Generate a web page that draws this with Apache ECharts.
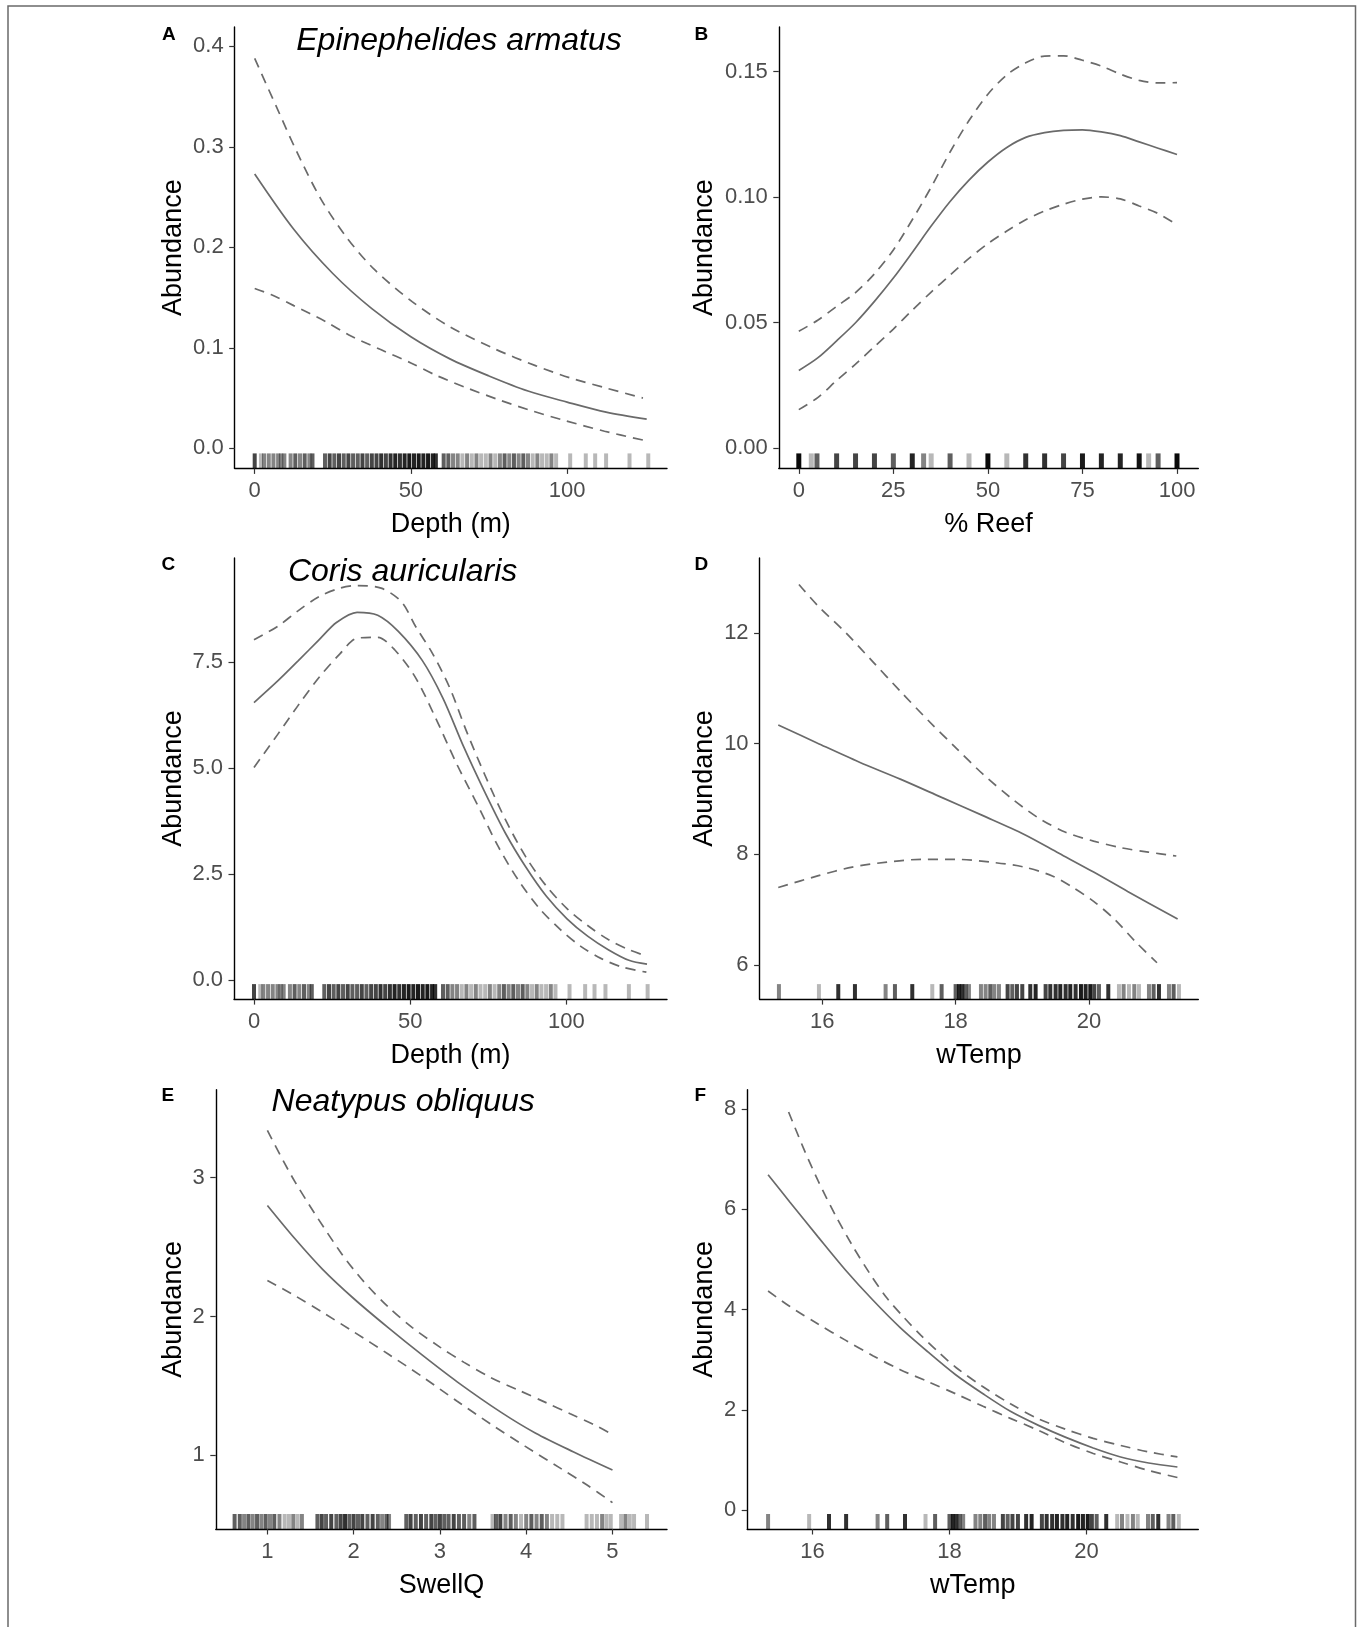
<!DOCTYPE html>
<html>
<head>
<meta charset="utf-8">
<script src="https://cdn.jsdelivr.net/npm/echarts@6/dist/echarts.min.js"></script>
<style>
  html, body { margin: 0; padding: 0; background: #fff; }
  #chart { width: 1363px; height: 1627px; }
</style>
</head>
<body>
<div id="chart"></div>
<script>
// ---- values ----

// tick values
const depthTicks = [0, 50, 100];
const reefTicks = [0, 25, 50, 75, 100];
const tempTicks = [16, 18, 20];
const swellTicks = [1, 2, 3, 4, 5];
const aYTicks = [0, 0.1, 0.2, 0.3, 0.4];
const bYTicks = [0, 0.05, 0.1, 0.15];
const cYTicks = [0, 2.5, 5, 7.5];
const dYTicks = [6, 8, 10, 12];
const eYTicks = [1, 2, 3];
const fYTicks = [0, 2, 4, 6, 8];

// A: Epinephelides armatus ~ Depth
const aFitX = [0, 12.5, 25, 37.5, 50, 62.5, 75, 87.5, 100, 112.5, 125.5];
const aFit = [0.273, 0.218, 0.174, 0.139, 0.111, 0.089, 0.072, 0.057, 0.046, 0.036, 0.029];
const aUpperX = [0, 6.8, 13.5, 21.2, 29.4, 38.3, 50.4, 62.5, 76.8, 90.1, 101.1, 112.5, 124.3];
const aUpper = [0.388, 0.341, 0.295, 0.248, 0.210, 0.178, 0.146, 0.121, 0.099, 0.082, 0.070, 0.060, 0.050];
const aLowerX = [0, 5.2, 12.5, 22.8, 30, 40.5, 50, 58.1, 68, 77.9, 88, 98.9, 112, 124.3];
const aLower = [0.159, 0.153, 0.142, 0.126, 0.113, 0.098, 0.085, 0.0726, 0.060, 0.0486, 0.038, 0.028, 0.017, 0.0082];

// B: Epinephelides armatus ~ % Reef
const bX = [0, 5, 10, 15, 20, 25, 30, 35, 40, 45, 50, 55, 60, 65, 70, 75, 80, 85, 90, 95, 100];
const bFit = [0.031, 0.036, 0.0428, 0.050, 0.0585, 0.0678, 0.078, 0.0885, 0.0983, 0.1068, 0.114, 0.1198, 0.1238, 0.1257, 0.1266, 0.1268, 0.126, 0.1245, 0.122, 0.1195, 0.117];
const bUpper = [0.0466, 0.051, 0.0565, 0.062, 0.0695, 0.079, 0.091, 0.104, 0.118, 0.1305, 0.141, 0.1487, 0.1535, 0.1562, 0.1563, 0.1545, 0.1522, 0.149, 0.1465, 0.1455, 0.1456];
const bLower = [0.0154, 0.0202, 0.027, 0.0335, 0.0405, 0.0475, 0.055, 0.0622, 0.069, 0.0756, 0.0815, 0.0865, 0.091, 0.0945, 0.0972, 0.0992, 0.1001, 0.0993, 0.0965, 0.0935, 0.089];

// C: Coris auricularis ~ Depth
const cFitX = [0, 7.6, 14.2, 20.8, 26.4, 33, 39.6, 46.2, 53.9, 60.5, 67.1, 73.8, 80.4, 87, 93.6, 100.2, 106.8, 113.4, 120, 125.8];
const cFit = [6.54, 7.05, 7.53, 8.02, 8.43, 8.67, 8.60, 8.22, 7.53, 6.64, 5.50, 4.44, 3.47, 2.66, 1.97, 1.44, 1.03, 0.71, 0.46, 0.37];
const cUpperX = [0, 7.6, 14.2, 20.8, 27.5, 33, 40.7, 47.3, 51.7, 57.2, 62.7, 68.2, 73.8, 80.4, 87, 93.6, 100.2, 106.8, 113.4, 120, 125.6];
const cUpper = [8.02, 8.34, 8.71, 9.04, 9.24, 9.30, 9.24, 8.91, 8.34, 7.69, 6.88, 5.83, 4.85, 3.79, 2.90, 2.21, 1.68, 1.28, 0.95, 0.71, 0.56];
const cLowerX = [0, 7.6, 14.2, 20.8, 27.5, 33, 39.6, 45.1, 51.7, 58.3, 64.9, 71.6, 78.2, 84.8, 91.4, 98, 104.6, 111.2, 117.9, 125.6];
const cLower = [5.01, 5.79, 6.48, 7.13, 7.69, 8.06, 8.08, 7.78, 7.13, 6.15, 5.09, 4.12, 3.14, 2.33, 1.68, 1.19, 0.79, 0.50, 0.30, 0.18];

// D: Coris auricularis ~ wTemp
const dFitX = [15.34, 15.93, 16.55, 17.17, 17.79, 18.41, 19.03, 19.55, 20.07, 20.58, 21.33];
const dFit = [10.34, 10.01, 9.67, 9.36, 9.03, 8.70, 8.36, 8.02, 7.68, 7.33, 6.83];
const dUpperX = [15.65, 15.93, 16.35, 16.76, 17.17, 17.59, 18.0, 18.41, 18.83, 19.24, 19.65, 20.07, 20.48, 20.89, 21.31];
const dUpper = [12.88, 12.50, 12.01, 11.48, 10.95, 10.42, 9.93, 9.45, 9.02, 8.66, 8.40, 8.24, 8.12, 8.04, 7.97];
const dLowerX = [15.34, 15.93, 16.45, 16.97, 17.49, 18.0, 18.52, 19.03, 19.45, 19.76, 20.07, 20.38, 20.69, 21.02];
const dLower = [7.40, 7.61, 7.77, 7.86, 7.91, 7.91, 7.86, 7.77, 7.61, 7.40, 7.15, 6.83, 6.43, 6.04];

// E: Neatypus obliquus ~ SwellQ
const eFitX = [1, 1.32, 1.64, 2.0, 2.40, 2.80, 3.20, 3.71, 4.11, 4.55, 5.0];
const eFit = [2.80, 2.56, 2.34, 2.13, 1.92, 1.72, 1.53, 1.31, 1.16, 1.025, 0.895];
const eUpperX = [1, 1.32, 1.84, 2.12, 2.40, 2.68, 3.0, 3.28, 3.59, 3.91, 4.23, 4.51, 4.79, 5.0];
const eUpper = [3.34, 2.97, 2.47, 2.25, 2.07, 1.92, 1.78, 1.67, 1.56, 1.47, 1.38, 1.30, 1.22, 1.15];
const eLowerX = [1, 1.32, 1.64, 2.0, 2.40, 2.80, 3.20, 3.59, 3.99, 4.39, 4.71, 5.0];
const eLower = [2.26, 2.15, 2.03, 1.89, 1.73, 1.565, 1.39, 1.225, 1.065, 0.91, 0.785, 0.66];

// F: Neatypus obliquus ~ wTemp
const fFitX = [15.35, 15.67, 16.08, 16.48, 16.88, 17.28, 17.69, 18.09, 18.49, 18.89, 19.30, 19.70, 20.10, 20.50, 20.91, 21.33];
const fFit = [6.69, 6.14, 5.45, 4.79, 4.19, 3.64, 3.15, 2.70, 2.32, 1.97, 1.69, 1.45, 1.24, 1.06, 0.94, 0.86];
const fUpperX = [15.65, 15.87, 16.08, 16.33, 16.58, 16.83, 17.08, 17.33, 17.58, 17.84, 18.09, 18.49, 18.89, 19.30, 19.70, 20.10, 20.50, 20.91, 21.33];
const fUpper = [7.94, 7.21, 6.57, 5.89, 5.28, 4.73, 4.24, 3.85, 3.49, 3.15, 2.85, 2.46, 2.12, 1.82, 1.61, 1.43, 1.29, 1.16, 1.06];
const fLowerX = [15.35, 15.67, 16.08, 16.48, 16.88, 17.28, 17.69, 18.09, 18.49, 18.89, 19.30, 19.70, 20.10, 20.50, 20.91, 21.33];
const fLower = [4.37, 4.06, 3.71, 3.39, 3.08, 2.80, 2.56, 2.32, 2.07, 1.83, 1.59, 1.34, 1.13, 0.96, 0.79, 0.65];

// rug marks: observed predictor values and how many observations overlap there
const depthRug = [0, 2, 3, 4.5, 6, 7.5, 8.5, 9.5, 11.5, 13, 14.5, 16, 17.5, 18.5,
  22.5, 24, 25.5, 27, 28.5, 30, 31.5, 33, 34.5, 36, 37.5, 39, 40.5, 42, 43.5, 45, 46.5, 48, 49.5, 51, 52.5, 54, 55.5, 57, 58,
  60.5, 62, 63.5, 65, 66.5, 68, 69.5, 71, 72.5, 74, 75.5, 77, 78.5, 80, 81.5, 83, 84.5, 86, 87.5, 89, 90.5, 92, 93.5, 95, 96.5,
  101, 106, 109, 112.5, 120, 126];
const depthRugN = [4, 1, 2, 2, 2, 2, 2, 2, 2, 3, 2, 3, 2, 3,
  3, 4, 3, 4, 3, 4, 3, 3, 4, 3, 4, 4, 5, 4, 5, 6, 5, 6, 7, 6, 7, 6, 7, 6, 5,
  3, 3, 2, 2, 1, 2, 1, 2, 1, 1, 2, 1, 2, 3, 2, 3, 2, 3, 2, 1, 2, 1, 1, 2, 1,
  1, 1, 1, 1, 1, 1];
const reefRug = [0, 3.3, 4.8, 10, 15, 20, 25, 30, 33, 35, 40, 45, 50, 55, 60, 65, 70, 75, 80, 85, 90, 92.5, 95, 100];
const reefRugN = [10, 1, 3, 4, 4, 4, 3, 6, 2, 1, 3, 1, 10, 1, 5, 5, 4, 7, 6, 6, 8, 1, 3, 10];
const tempRug = [15.35, 15.95, 16.24, 16.49, 16.95, 17.09, 17.35, 17.65, 17.79,
  18.0, 18.05, 18.1, 18.15, 18.2, 18.38, 18.45, 18.52, 18.58, 18.65, 18.78, 18.85, 18.92, 19.0,
  19.12, 19.2, 19.35, 19.42, 19.5, 19.57, 19.65, 19.72, 19.8, 19.88, 19.95, 20.02,
  20.08, 20.15, 20.29, 20.45, 20.52, 20.6, 20.68, 20.75, 20.9, 20.97, 21.05, 21.2, 21.27, 21.35];
const tempRugN = [2, 1, 5, 5, 2, 3, 5, 1, 3,
  3, 6, 5, 3, 2, 2, 2, 3, 2, 2, 4, 3, 4, 4,
  5, 6, 4, 5, 5, 6, 5, 6, 5, 7, 6, 7,
  4, 3, 5, 1, 2, 1, 2, 1, 2, 3, 5, 2, 3, 1];
const swellRug = [0.62, 0.68, 0.73, 0.78, 0.83, 0.88, 0.93, 0.98, 1.03, 1.08, 1.14, 1.2, 1.25, 1.3, 1.35, 1.4,
  1.58, 1.63, 1.68, 1.74, 1.8, 1.85, 1.9, 1.95, 2.0, 2.05, 2.1, 2.16, 2.22, 2.28, 2.33, 2.38, 2.41,
  2.61, 2.66, 2.72, 2.78, 2.84, 2.9, 2.95, 3.0, 3.05, 3.1, 3.16, 3.22, 3.28, 3.34, 3.4,
  3.61, 3.65, 3.7, 3.76, 3.82, 3.88, 3.94, 4.0, 4.06, 4.12, 4.18, 4.24, 4.3, 4.36, 4.42,
  4.7, 4.76, 4.82, 4.88, 4.93, 4.98, 5.1, 5.15, 5.2, 5.25, 5.4];
const swellRugN = [3, 3, 2, 3, 2, 3, 2, 3, 2, 3, 2, 1, 1, 2, 1, 2,
  3, 4, 3, 4, 3, 4, 5, 3, 4, 3, 4, 3, 4, 3, 2, 3, 2,
  3, 4, 3, 4, 3, 4, 3, 4, 3, 3, 4, 3, 3, 2, 3,
  1, 3, 4, 2, 3, 2, 1, 2, 3, 2, 3, 2, 1, 1, 1,
  1, 1, 1, 2, 1, 1, 1, 2, 1, 1, 1];

// ---- layout ----
const FONT = '"Liberation Sans", Arial, Helvetica, sans-serif';
const LINE = '#6a6a6a';
const RUG_ALPHA = 0.28;

const panels = [
  { letter: 'A', lx: 162, ly: 35, title: 'Epinephelides armatus', tx: 459, ty: 41,
    grid: { left: 234.7, top: 26.9, width: 432.3, height: 441.5 },
    x: { min: -6.4, max: 132, ticks: depthTicks, dec: 0, name: 'Depth (m)' },
    y: { min: -0.02, max: 0.4194, ticks: aYTicks, dec: 1, gap: 47.7 },
    fit: [aFitX, aFit], upper: [aUpperX, aUpper], lower: [aLowerX, aLower], rug: [depthRug, depthRugN], rugW: 4 },
  { letter: 'B', lx: 694.5, ly: 35,
    grid: { left: 778.8, top: 26.9, width: 419.5, height: 441.5 },
    x: { min: -5.29, max: 105.63, ticks: reefTicks, dec: 0, name: '% Reef' },
    y: { min: -0.008, max: 0.1678, ticks: bYTicks, dec: 2, gap: 60.4 },
    fit: [bX, bFit], upper: [bX, bUpper], lower: [bX, bLower], rug: [reefRug, reefRugN], rugW: 5 },
  { letter: 'C', lx: 161.4, ly: 565, title: 'Coris auricularis', tx: 402.6, ty: 572,
    grid: { left: 234, top: 557.9, width: 433, height: 441.2 },
    x: { min: -6.4, max: 132.2, ticks: depthTicks, dec: 0, name: 'Depth (m)' },
    y: { min: -0.455, max: 9.953, ticks: cYTicks, dec: 1, gap: 47 },
    fit: [cFitX, cFit], upper: [cUpperX, cUpper], lower: [cLowerX, cLower], rug: [depthRug, depthRugN], rugW: 4 },
  { letter: 'D', lx: 694.5, ly: 565,
    grid: { left: 759.6, top: 557.9, width: 438.7, height: 441.2 },
    x: { min: 15.06, max: 21.64, ticks: tempTicks, dec: 0, name: 'wTemp' },
    y: { min: 5.383, max: 13.36, ticks: dYTicks, dec: 0, gap: 41.2 },
    fit: [dFitX, dFit], upper: [dUpperX, dUpper], lower: [dLowerX, dLower], rug: [tempRug, tempRugN], rugW: 4 },
  { letter: 'E', lx: 161.4, ly: 1096, title: 'Neatypus obliquus', tx: 403.2, ty: 1102,
    grid: { left: 215.8, top: 1089.8, width: 451.2, height: 439.2 },
    x: { min: 0.402, max: 5.632, ticks: swellTicks, dec: 0, name: 'SwellQ' },
    y: { min: 0.47, max: 3.633, ticks: eYTicks, dec: 0, gap: 28.8 },
    fit: [eFitX, eFit], upper: [eUpperX, eUpper], lower: [eLowerX, eLower], rug: [swellRug, swellRugN], rugW: 4 },
  { letter: 'F', lx: 694.5, ly: 1096,
    grid: { left: 747.2, top: 1089.8, width: 451.1, height: 439.2 },
    x: { min: 15.045, max: 21.635, ticks: tempTicks, dec: 0, name: 'wTemp' },
    y: { min: -0.377, max: 8.383, ticks: fYTicks, dec: 0, gap: 28.8 },
    fit: [fFitX, fFit], upper: [fUpperX, fUpper], lower: [fLowerX, fLower], rug: [tempRug, tempRugN], rugW: 4 }
];

function zip(xs, ys) {
  return xs.map(function (x, i) { return [x, ys[i]]; });
}

function axisBase(ax) {
  return {
    type: 'value',
    min: ax.min,
    max: ax.max,
    splitLine: { show: false },
    axisLine: { show: true, onZero: false, lineStyle: { color: '#000', width: 1.4 } },
    axisTick: { show: true, customValues: ax.ticks, length: 5.5, lineStyle: { color: '#333', width: 1.2 } },
    axisLabel: {
      customValues: ax.ticks,
      formatter: function (v) { return Number(v).toFixed(ax.dec); },
      fontSize: 22, color: '#4d4d4d', fontFamily: FONT, margin: 12
    },
    nameLocation: 'middle',
    nameTextStyle: { fontSize: 27, color: '#000', fontFamily: FONT }
  };
}

const grids = [], xAxes = [], yAxes = [], series = [], graphics = [];

// outer frame of the figure
graphics.push({
  type: 'rect', silent: true,
  shape: { x: 8, y: 6, width: 1347.5, height: 1640 },
  style: { fill: 'none', stroke: '#6a6a6a', lineWidth: 1.5 }
});

panels.forEach(function (p, i) {
  grids.push(p.grid);
  const xa = axisBase(p.x);
  xa.gridIndex = i; xa.name = p.x.name; xa.nameGap = 43;
  xAxes.push(xa);
  const ya = axisBase(p.y);
  ya.gridIndex = i; ya.name = 'Abundance'; ya.nameGap = p.y.gap;
  ya.axisLabel.margin = 11;
  yAxes.push(ya);

  // rug along the bottom of the panel
  series.push({
    type: 'scatter', xAxisIndex: i, yAxisIndex: i, silent: true, clip: false,
    symbol: 'rect', symbolSize: [p.rugW, 15], symbolOffset: [0, '-50%'],
    data: p.rug[0].map(function (v, k) {
      return { value: [v, p.y.min], itemStyle: { color: '#000', opacity: 1 - Math.pow(1 - RUG_ALPHA, p.rug[1][k]) } };
    }),
    z: 1
  });

  [['fit', 'solid'], ['upper', [10, 7]], ['lower', [10, 7]]].forEach(function (s) {
    series.push({
      type: 'line', xAxisIndex: i, yAxisIndex: i, silent: true,
      showSymbol: false, smooth: 0.3,
      data: zip(p[s[0]][0], p[s[0]][1]),
      lineStyle: { color: LINE, width: 1.7, type: s[1] },
      z: 3
    });
  });

  graphics.push({
    type: 'text', x: p.lx, y: p.ly, silent: true,
    style: { text: p.letter, font: 'bold 19px ' + FONT, fill: '#000', align: 'left', verticalAlign: 'middle' }
  });
  if (p.title) {
    graphics.push({
      type: 'text', x: p.tx, y: p.ty, silent: true,
      style: { text: p.title, font: 'italic 32px ' + FONT, fill: '#000', align: 'center', verticalAlign: 'middle' }
    });
  }
});

const chart = echarts.init(document.getElementById('chart'));
chart.setOption({
  animation: false,
  backgroundColor: '#fff',
  textStyle: { fontFamily: FONT },
  grid: grids,
  xAxis: xAxes,
  yAxis: yAxes,
  series: series,
  graphic: graphics
});
window.addEventListener('resize', function () { chart.resize(); });
</script>
</body>
</html>
